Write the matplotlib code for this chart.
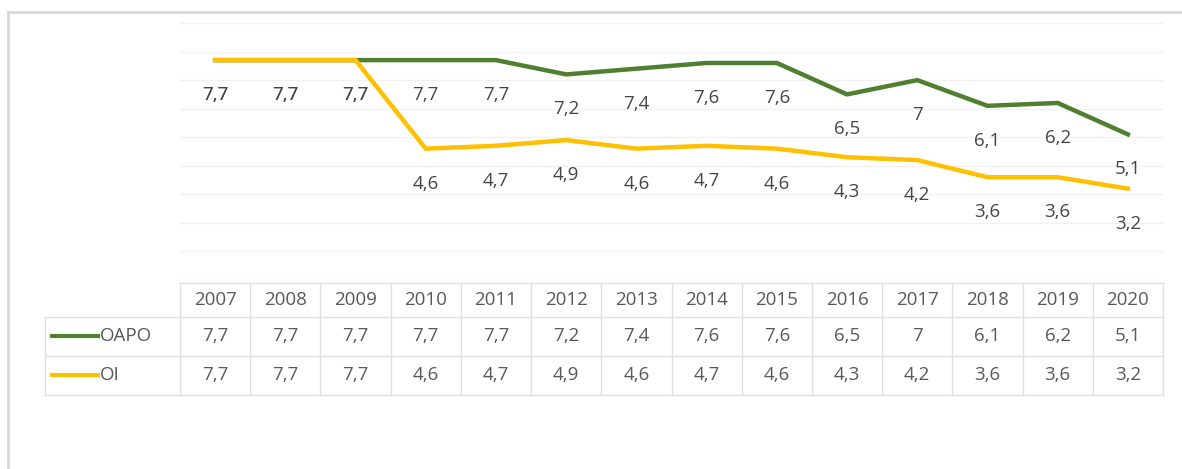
import numpy as np
import matplotlib.pyplot as plt
from matplotlib.lines import Line2D

plt.rcParams['font.family'] = ['Open Sans', 'DejaVu Sans']

# data
years = [2007, 2008, 2009, 2010, 2011, 2012, 2013, 2014, 2015, 2016, 2017, 2018, 2019, 2020]
oapo = [7.7, 7.7, 7.7, 7.7, 7.7, 7.2, 7.4, 7.6, 7.6, 6.5, 7.0, 6.1, 6.2, 5.1]
oi = [7.7, 7.7, 7.7, 4.6, 4.7, 4.9, 4.6, 4.7, 4.6, 4.3, 4.2, 3.6, 3.6, 3.2]
names = ['OAPO', 'OI']

green = '#4f7f2f'
yellow = '#ffc000'
txt = '#595959'
lab = '#454545'
fs = 13.5

def fmt(v):
    return ('%g' % v).replace('.', ',')

W, H = 1182, 469
fig = plt.figure(figsize=(W / 100, H / 100), dpi=100)

def P(px, py):
    return px / W, 1 - py / H

# plot area
ax = fig.add_axes([180 / W, 1 - 280 / H, (1163 - 180) / W, (280 - 23) / H])
ax.set_xlim(-0.5, len(years) - 0.5)
ax.set_ylim(0, 9)
ax.set_yticks(range(10))
ax.set_xticks([])
ax.grid(axis='y', color='#f1f1f1', lw=1)
ax.tick_params(left=False, labelleft=False)
for s in ax.spines.values():
    s.set_visible(False)

x = np.arange(len(years))
ax.plot(x, oapo, color=green, lw=3.2, solid_joinstyle='miter')
ax.plot(x, oi, color=yellow, lw=3.2, solid_joinstyle='miter')

for series in (oapo, oi):
    for xi, v in zip(x, series):
        ax.annotate(fmt(v), (xi, v), xytext=(0, -35), textcoords='offset pixels',
                    ha='center', va='center', color=lab, fontsize=fs)

# data table below the chart
edges = [ax.transData.transform((i - 0.5, 0))[0] for i in range(len(years) + 1)]
centers = [ax.transData.transform((i, 0))[0] for i in range(len(years))]
grid_c = '#e0e0e0'

def hline(py, x0, x1):
    fig.add_artist(Line2D([x0 / W, x1 / W], [1 - py / H, 1 - py / H], color=grid_c, lw=1))

def vline(px, y0, y1):
    fig.add_artist(Line2D([px / W, px / W], [1 - y0 / H, 1 - y1 / H], color=grid_c, lw=1))

hline(283, edges[0], edges[-1])
for py in (317, 356, 395):
    hline(py, 45, edges[-1])
vline(45, 317, 395)
for e in edges:
    vline(e, 283, 395)

for c, yr in zip(centers, years):
    fig.text(*P(c, 300), str(yr), ha='center', va='center', color=txt, fontsize=fs)

row_y = [336, 375]
for name, series, col, ry in zip(names, (oapo, oi), (green, yellow), row_y):
    fig.add_artist(Line2D([52 / W, 98 / W], [1 - ry / H] * 2, color=col, lw=3))
    fig.text(*P(100, ry), name, ha='left', va='center', color=txt, fontsize=fs)
    for c, v in zip(centers, series):
        fig.text(*P(c, ry), fmt(v), ha='center', va='center', color=txt, fontsize=fs)

# outer frame (top and left edges visible)
fig.add_artist(Line2D([8 / W, 1], [1 - 12 / H] * 2, color='#d8d8d8', lw=2))
fig.add_artist(Line2D([8 / W, 8 / W], [1 - 12 / H, 0], color='#d8d8d8', lw=2))

fig.savefig('out.png', dpi=100, facecolor='white')
